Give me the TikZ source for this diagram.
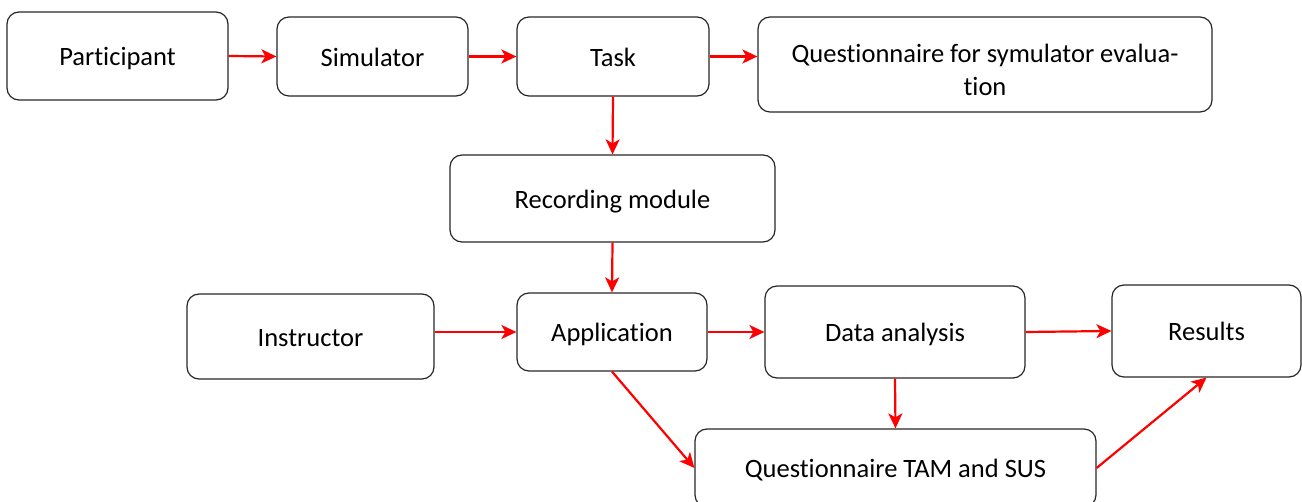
\documentclass[tikz,border=0pt]{standalone}
\usepackage{fontspec}
\setmainfont{Carlito}[Ligatures={NoCommon}]
\usetikzlibrary{arrows.meta}
\begin{document}
\begin{tikzpicture}[x=1pt,y=-1pt,
  box/.style={draw=black!85, line width=1.2pt, rounded corners=12pt, inner sep=0pt,
    font=\fontsize{26.5}{32.5}\selectfont, text height=19.5pt, text depth=0pt, align=center},
  flow/.style={draw=red, line width=2.2pt, -{Stealth[length=15pt,width=14pt,inset=4pt]}}]
\useasboundingbox (0,0) rectangle (1302,502);
\node[box, minimum width=221pt, minimum height=88pt] (part) at (117.5,56) {Participant};
\node[box, minimum width=191pt, minimum height=79pt] (sim) at (372.5,56.5) {Simulator};
\node[box, minimum width=192pt, minimum height=79pt] (task) at (613,56.5) {Task};
\node[box, minimum width=454pt, minimum height=95pt, text height=62pt, text depth=] (qsim) at (985,64.5) {Questionnaire for symulator evalua-\\tion};
\node[box, minimum width=325pt, minimum height=87pt] (rec) at (612.5,198.5) {Recording module};
\node[box, minimum width=247pt, minimum height=85pt] (instr) at (310.5,336.5) {Instructor};
\node[box, minimum width=190pt, minimum height=78pt] (app) at (612,332) {Application};
\node[box, minimum width=260pt, minimum height=92pt] (da) at (895,332) {Data analysis};
\node[box, minimum width=189pt, minimum height=92pt] (res) at (1206.5,331) {Results};
\node[box, minimum width=401pt, minimum height=78pt] (tam) at (895.5,468) {Questionnaire TAM and SUS};
\draw[flow] (part.east) -- (sim.west);
\draw[flow] (sim.east) -- (task.west);
\draw[flow] (task.east) -- (task.east -| qsim.west);
\draw[flow] (task.south) -- (rec.north);
\draw[flow] (rec.south) -- (app.north);
\draw[flow] (instr.east |- app.west) -- (app.west);
\draw[flow] (app.east) -- (app.east -| da.west);
\draw[flow] (da.east) -- (res.west);
\draw[flow] (app.south) -- (tam.west);
\draw[flow] (da.south) -- (tam.north);
\draw[flow] (tam.east) -- (res.south);
\end{tikzpicture}
\end{document}
